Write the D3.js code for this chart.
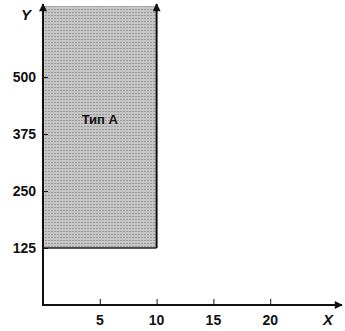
<!DOCTYPE html>
<html>
<head>
<meta charset="utf-8">
<script src="https://cdn.jsdelivr.net/npm/d3@7"></script>
<style>
  body { margin: 0; background: #fff; }
  text { font-family: "Liberation Sans", Arial, sans-serif; font-weight: bold; fill: #111; }
</style>
</head>
<body>
<div id="chart"></div>
<script>
var xTicks = [5, 10, 15, 20];
var yTicks = [125, 250, 375, 500];
var zoneA = {x0: 0, x1: 10, y0: 125, label: "Тип А"};
var xName = "X", yName = "Y";

var width = 345, height = 331;
var x = d3.scaleLinear().domain([0, 25]).range([43, 327]);
var y = d3.scaleLinear().domain([0, 660]).range([305, 4]);

var svg = d3.select("#chart").append("svg")
	.attr("width", width)
	.attr("height", height);

var defs = svg.append("defs");
var pat = defs.append("pattern")
	.attr("id", "dots")
	.attr("width", 3).attr("height", 3)
	.attr("patternUnits", "userSpaceOnUse");
pat.append("rect").attr("width", 3).attr("height", 3).attr("fill", "#c6c6c6");
pat.append("rect").attr("width", 2).attr("height", 1).attr("fill", "#999");

var mk = defs.append("marker")
	.attr("id", "arrow")
	.attr("viewBox", "0 0 10 10")
	.attr("refX", 9).attr("refY", 5)
	.attr("markerWidth", 6).attr("markerHeight", 4)
	.attr("markerUnits", "strokeWidth")
	.attr("orient", "auto");
mk.append("path").attr("d", "M0,0 L10,5 L0,10 z").attr("fill", "#111");

// shaded zone
svg.append("rect")
	.attr("x", x(zoneA.x0))
	.attr("y", y.range()[1] + 2)
	.attr("width", x(zoneA.x1) - x(zoneA.x0))
	.attr("height", y(zoneA.y0) - y.range()[1] - 2)
	.attr("fill", "url(#dots)");

svg.append("line")
	.attr("x1", x(zoneA.x0)).attr("x2", x(zoneA.x1))
	.attr("y1", y(zoneA.y0)).attr("y2", y(zoneA.y0))
	.attr("stroke", "#222").attr("stroke-width", 1.5);

svg.append("line")
	.attr("x1", x(zoneA.x1)).attr("x2", x(zoneA.x1))
	.attr("y1", y(zoneA.y0)).attr("y2", y.range()[1])
	.attr("stroke", "#111").attr("stroke-width", 2)
	.attr("marker-end", "url(#arrow)");

svg.append("text")
	.attr("x", x((zoneA.x0 + zoneA.x1) / 2))
	.attr("y", 124)
	.attr("text-anchor", "middle")
	.style("font-size", "13px")
	.text(zoneA.label);

// axes
var axisBottom = d3.axisTop(x).tickValues(xTicks).tickSize(6).tickFormat("");
var gx = svg.append("g")
	.attr("transform", "translate(0," + y(0) + ")")
	.call(axisBottom);
gx.select(".domain").remove();
gx.selectAll(".tick line").attr("stroke", "#111").attr("stroke-width", 1);

var axisLeft = d3.axisRight(y).tickValues(yTicks).tickSize(5).tickFormat("");
var gy = svg.append("g")
	.attr("transform", "translate(" + x(0) + ",0)")
	.call(axisLeft);
gy.select(".domain").remove();
gy.selectAll(".tick line").attr("stroke", "#111").attr("stroke-width", 1);

svg.append("line")
	.attr("x1", x(0)).attr("x2", 342)
	.attr("y1", y(0)).attr("y2", y(0))
	.attr("stroke", "#111").attr("stroke-width", 2)
	.attr("marker-end", "url(#arrow)");

svg.append("line")
	.attr("x1", x(0)).attr("x2", x(0))
	.attr("y1", y(0) + 1).attr("y2", y.range()[1])
	.attr("stroke", "#111").attr("stroke-width", 2)
	.attr("marker-end", "url(#arrow)");

svg.selectAll(".xlab")
	.data(xTicks)
	.enter().append("text")
	.attr("class", "xlab")
	.attr("x", function(d) { return x(d); })
	.attr("y", 325)
	.attr("text-anchor", "middle")
	.style("font-size", "14px")
	.text(function(d) { return d; });

svg.selectAll(".ylab")
	.data(yTicks)
	.enter().append("text")
	.attr("class", "ylab")
	.attr("x", 36)
	.attr("y", function(d) { return y(d) + 5; })
	.attr("text-anchor", "end")
	.style("font-size", "14px")
	.text(function(d) { return d; });

svg.append("text")
	.attr("x", 328).attr("y", 325)
	.style("font-size", "15px").style("font-style", "italic")
	.attr("text-anchor", "middle")
	.text(xName);

svg.append("text")
	.attr("x", 26).attr("y", 20)
	.style("font-size", "15px").style("font-style", "italic")
	.attr("text-anchor", "middle")
	.text(yName);
</script>
</body>
</html>
